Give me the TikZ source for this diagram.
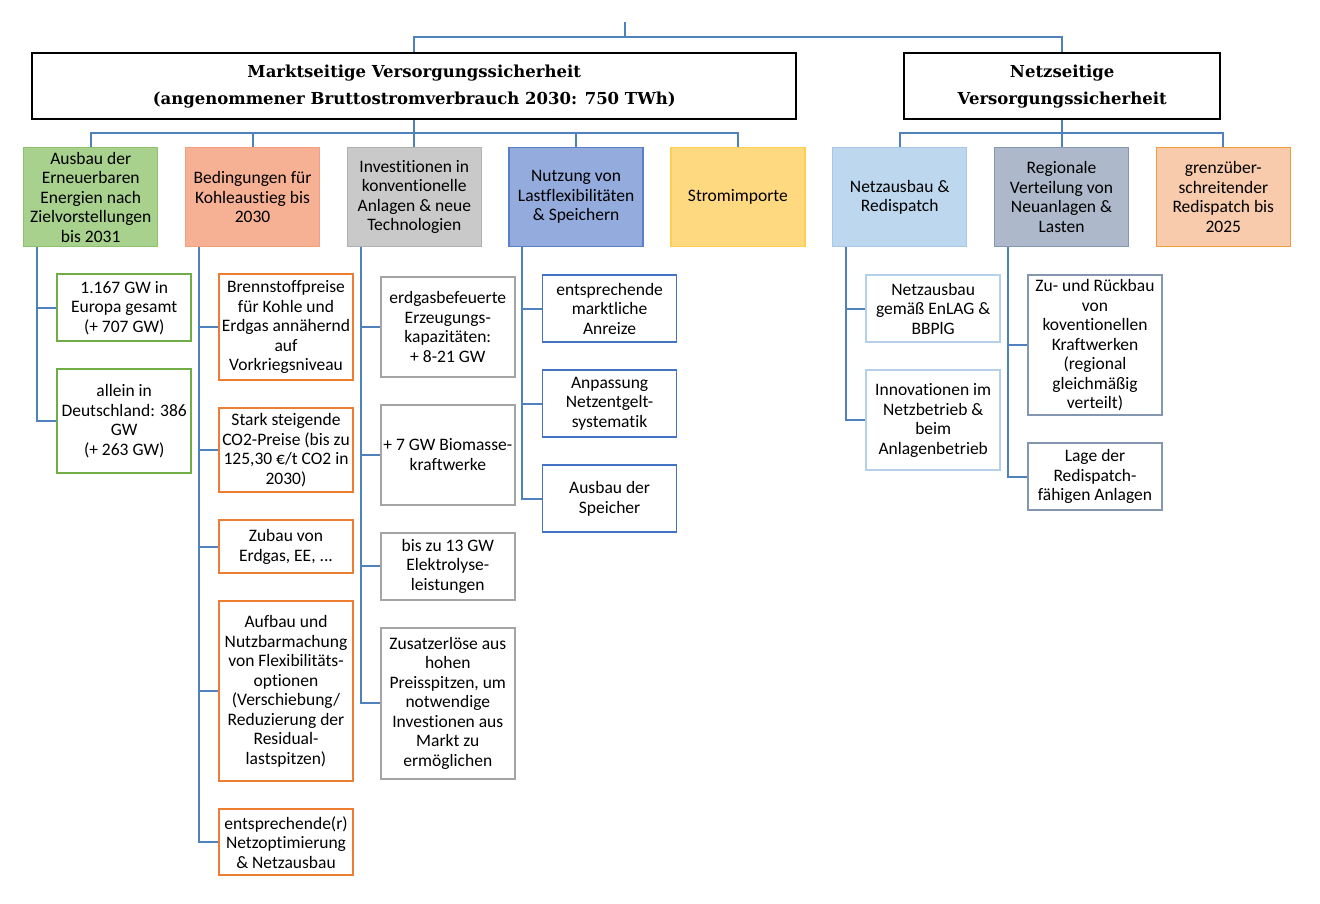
\documentclass[tikz,border=0pt]{standalone}
\usepackage{fontspec}
\newfontfamily\bodyfont{Carlito}[Ligatures=NoCommon]
\newfontfamily\headfont{DejaVu Serif}
\usepackage{tikz}
\usetikzlibrary{positioning}
\definecolor{connBlue}{HTML}{4F81BD}
\definecolor{grnFill}{HTML}{A9D18E}
\definecolor{grnLine}{HTML}{8CC36A}
\definecolor{grnItem}{HTML}{70AD47}
\definecolor{salFill}{HTML}{F6B195}
\definecolor{salLine}{HTML}{F4A07E}
\definecolor{salItem}{HTML}{ED7D31}
\definecolor{gryFill}{HTML}{C9C9C9}
\definecolor{gryLine}{HTML}{B0B0B0}
\definecolor{gryItem}{HTML}{A5A5A5}
\definecolor{bluFill}{HTML}{94ABDD}
\definecolor{bluLine}{HTML}{5B7FC6}
\definecolor{bluItem}{HTML}{4472C4}
\definecolor{ylwFill}{HTML}{FFD97F}
\definecolor{ylwLine}{HTML}{FFCF50}
\definecolor{lbFill}{HTML}{BDD7EE}
\definecolor{lbLine}{HTML}{A8C8E8}
\definecolor{lbItem}{HTML}{B4D0EC}
\definecolor{slFill}{HTML}{ADB9CA}
\definecolor{slLine}{HTML}{8497B0}
\definecolor{slItem}{HTML}{8497B0}
\definecolor{orFill}{HTML}{F8CBAD}
\definecolor{orLine}{HTML}{F29B3A}

\begin{document}
\begin{tikzpicture}[
        x=1pt, y=-1pt, node distance=26.3pt and 26.4pt,
        conn/.style={draw=connBlue, line width=2pt},
        headbox/.style={draw=black, line width=2.4pt, fill=white, align=center, minimum height=66pt,
          anchor=north west, font=\headfont\bfseries\fontsize{16.5}{27}\selectfont},
        catbox/.style={draw=#1Line, fill=#1Fill, line width=1.4pt, minimum width=134pt, minimum height=99pt,
          align=center, inner sep=2pt, font=\bodyfont\fontsize{17.5}{19.5}\selectfont},
        itembox/.style={draw=#1, fill=white, line width=1.7pt, minimum width=134pt, align=center,
          inner sep=2pt, font=\bodyfont\fontsize{17.5}{19.5}\selectfont}]
        \useasboundingbox (0,0) rectangle (1320,904);
        % top level
        \node[headbox, minimum width=764pt] (markt) at (31,52) {Marktseitige Versorgungssicherheit\\
              (angenommener Bruttostromverbrauch 2030: 750 TWh)};
        \node[headbox, minimum width=316pt] (netz) at (903,52) {Netzseitige\\Versorgungssicherheit};
        \coordinate (top) at (625,22); \coordinate (tbus) at (625,37);
        \draw[conn] (top)--(tbus); \draw[conn] (markt.north) |- (tbus) -| (netz.north);
        % categories
        \node[catbox=grn, anchor=north west] (ee) at (23,147) {Ausbau der\\Erneuerbaren\\Energien nach\\Zielvorstellungen\\bis 2031};
        \node[catbox=sal, right=of ee] (kohle) {Bedingungen für\\Kohleaustieg bis\\2030};
        \node[catbox=gry, right=of kohle] (invest) {Investitionen in\\konventionelle\\Anlagen \& neue\\Technologien};
        \node[catbox=blu, right=of invest] (flex) {Nutzung von\\Lastflexibilitäten\\\& Speichern};
        \node[catbox=ylw, right=of flex] (import) {Stromimporte};
        \node[catbox=lb, right=of import] (ausbau) {Netzausbau \&\\Redispatch};
        \node[catbox=sl, right=of ausbau] (regio) {Regionale\\Verteilung von\\Neuanlagen \&\\Lasten};
        \node[catbox=or, right=of regio] (grenz) {grenzüber-\\schreitender\\Redispatch bis\\2025};
        \coordinate (mbus) at (markt.south |- 0,133); \coordinate (nbus) at (netz.south |- 0,133);
        \draw[conn] (markt.south)--(mbus); \draw[conn] (ee.north) |- (mbus) -| (import.north);
        \draw[conn] (kohle.north) |- (mbus); \draw[conn] (invest.north) |- (mbus); \draw[conn] (flex.north) |- (mbus);
        \draw[conn] (netz.south)--(nbus); \draw[conn] (ausbau.north) |- (nbus) -| (grenz.north);
        \draw[conn] (regio.north) |- (nbus);
        % Erneuerbare
        \node[itembox=grnItem, minimum height=67pt, below=26pt of ee, xshift=33.5pt] (ee1) {1.167 GW in\\Europa gesamt\\(+ 707 GW)};
        \node[itembox=grnItem, minimum height=104pt, below=of ee1] (ee2) {allein in\\Deutschland: 386\\GW\\(+ 263 GW)};
        \draw[conn] ([xshift=14pt]ee.south west) |- (ee1.west); \draw[conn] ([xshift=14pt]ee.south west) |- (ee2.west);
        % Kohleausstieg
        \node[itembox=salItem, minimum height=106pt, below=26pt of kohle, xshift=33.5pt] (kohle1) {Brennstoffpreise\\für Kohle und\\Erdgas annähernd\\auf\\Vorkriegsniveau};
        \node[itembox=salItem, minimum height=84pt, below=of kohle1] (kohle2) {Stark steigende\\CO2-Preise (bis zu\\125,30 €/t CO2 in\\2030)};
        \node[itembox=salItem, minimum height=53pt, below=of kohle2] (kohle3) {Zubau von\\Erdgas, EE, ...};
        \node[itembox=salItem, minimum height=180pt, below=of kohle3] (kohle4) {Aufbau und\\Nutzbarmachung\\von Flexibilitäts-\\optionen\\(Verschiebung/\\Reduzierung der\\Residual-\\lastspitzen)};
        \node[itembox=salItem, minimum height=66pt, below=of kohle4] (kohle5) {entsprechende(r)\\Netzoptimierung\\\& Netzausbau};
        \draw[conn] ([xshift=14pt]kohle.south west) |- (kohle1.west); \draw[conn] ([xshift=14pt]kohle.south west) |- (kohle2.west);
        \draw[conn] ([xshift=14pt]kohle.south west) |- (kohle3.west); \draw[conn] ([xshift=14pt]kohle.south west) |- (kohle4.west);
        \draw[conn] ([xshift=14pt]kohle.south west) |- (kohle5.west);
        % Investitionen
        \node[itembox=gryItem, minimum height=100pt, below=28.5pt of invest, xshift=33.5pt] (invest1) {erdgasbefeuerte\\Erzeugungs-\\kapazitäten:\\+ 8-21 GW};
        \node[itembox=gryItem, minimum height=100pt, below=of invest1] (invest2) {+ 7 GW Biomasse-\\kraftwerke};
        \node[itembox=gryItem, minimum height=67pt, below=of invest2] (invest3) {bis zu 13 GW\\Elektrolyse-\\leistungen};
        \node[itembox=gryItem, minimum height=151pt, below=of invest3] (invest4) {Zusatzerlöse aus\\hohen\\Preisspitzen, um\\notwendige\\Investionen aus\\Markt zu\\ermöglichen};
        \draw[conn] ([xshift=14pt]invest.south west) |- (invest1.west); \draw[conn] ([xshift=14pt]invest.south west) |- (invest2.west);
        \draw[conn] ([xshift=14pt]invest.south west) |- (invest3.west); \draw[conn] ([xshift=14pt]invest.south west) |- (invest4.west);
        % Flexibilitaeten
        \node[itembox=bluItem, minimum height=67pt, below=27pt of flex, xshift=33.5pt] (flex1) {entsprechende\\marktliche\\Anreize};
        \node[itembox=bluItem, minimum height=67pt, below=of flex1] (flex2) {Anpassung\\Netzentgelt-\\systematik};
        \node[itembox=bluItem, minimum height=67pt, below=of flex2] (flex3) {Ausbau der\\Speicher};
        \draw[conn] ([xshift=14pt]flex.south west) |- (flex1.west); \draw[conn] ([xshift=14pt]flex.south west) |- (flex2.west);
        \draw[conn] ([xshift=14pt]flex.south west) |- (flex3.west);
        % Netzausbau
        \node[itembox=lbItem, minimum height=67pt, below=27pt of ausbau, xshift=33.5pt] (ausbau1) {Netzausbau\\gemäß EnLAG \&\\BBPlG};
        \node[itembox=lbItem, minimum height=100pt, below=of ausbau1] (ausbau2) {Innovationen im\\Netzbetrieb \&\\beim\\Anlagenbetrieb};
        \draw[conn] ([xshift=14pt]ausbau.south west) |- (ausbau1.west); \draw[conn] ([xshift=14pt]ausbau.south west) |- (ausbau2.west);
        % regionale Verteilung
        \node[itembox=slItem, minimum height=140pt, below=27pt of regio, xshift=33.5pt] (regio1) {Zu- und Rückbau\\von\\koventionellen\\Kraftwerken\\(regional\\gleichmäßig\\verteilt)};
        \node[itembox=slItem, minimum height=67pt, below=of regio1] (regio2) {Lage der\\Redispatch-\\fähigen Anlagen};
        \draw[conn] ([xshift=14pt]regio.south west) |- (regio1.west); \draw[conn] ([xshift=14pt]regio.south west) |- (regio2.west);
      \end{tikzpicture}
\end{document}
